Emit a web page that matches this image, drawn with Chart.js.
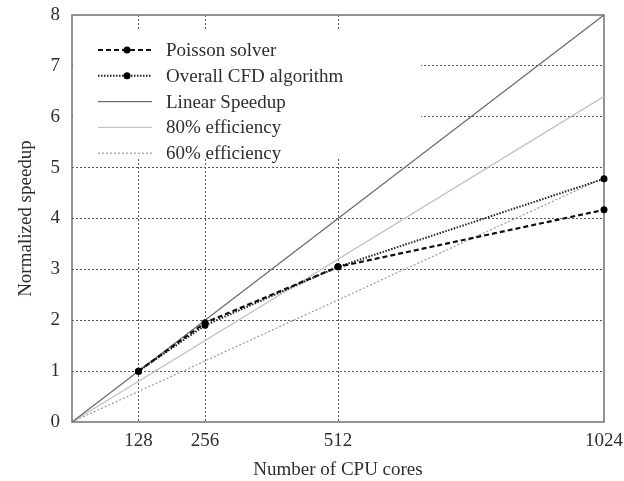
<!DOCTYPE html>
<html>
<head>
<meta charset="utf-8">
<script src="https://cdn.jsdelivr.net/npm/chart.js@4/dist/chart.umd.min.js"></script>
<style>
  html, body { margin: 0; padding: 0; background: #fff; }
  #wrap { width: 624px; height: 481px; }
</style>
</head>
<body>
<div id="wrap"><canvas id="speedupChart" width="624" height="481"></canvas></div>
<script>
// values
const cores = [128, 256, 512, 1024];
const poissonSpeedup = [1, 1.95, 3.05, 4.17];
const cfdSpeedup = [1, 1.9, 3.05, 4.78];
const refCores = [0, 1024];
const linearSpeedup = [0, 8];
const eff80 = [0, 6.4];
const eff60 = [0, 4.8];
const xTicks = [128, 256, 512, 1024];
const yTicks = [0, 1, 2, 3, 4, 5, 6, 7, 8];

const serif = 'Liberation Serif';
const textColor = '#2e2e2e';

function toPoints(xs, ys) {
  return xs.map((x, i) => ({ x: x, y: ys[i] }));
}

// legend inside the plot, top-left; its white box hides the grid behind it
const insideLegend = {
  id: 'insideLegend',
  beforeDatasetsDraw(chart) {
    const ctx = chart.ctx;
    const area = chart.chartArea;
    ctx.save();
    ctx.fillStyle = '#fff';
    ctx.fillRect(area.left + 1, 30, 420 - area.left, 128);
    ctx.restore();
  },
  afterDatasetsDraw(chart) {
    const ctx = chart.ctx;
    ctx.save();
    const rowStart = 50;
    const rowGap = 25.8;
    chart.data.datasets.forEach((ds, i) => {
      const y = rowStart + i * rowGap;
      ctx.strokeStyle = ds.borderColor;
      ctx.lineWidth = ds.borderWidth;
      ctx.setLineDash(ds.borderDash || []);
      ctx.beginPath();
      ctx.moveTo(98, y);
      ctx.lineTo(152, y);
      ctx.stroke();
      ctx.setLineDash([]);
      if (ds.pointRadius > 0) {
        ctx.fillStyle = ds.pointBackgroundColor;
        ctx.beginPath();
        ctx.arc(127, y, ds.pointRadius, 0, Math.PI * 2);
        ctx.fill();
      }
      ctx.fillStyle = textColor;
      ctx.font = '19px "' + serif + '"';
      ctx.textBaseline = 'middle';
      ctx.fillText(ds.label, 166, y + 1);
    });
    ctx.restore();
  }
};

// frame around the plot area
const plotFrame = {
  id: 'plotFrame',
  beforeDatasetsDraw(chart) {
    const ctx = chart.ctx;
    const a = chart.chartArea;
    ctx.save();
    ctx.strokeStyle = '#707070';
    ctx.lineWidth = 1.5;
    ctx.strokeRect(a.left, a.top, a.right - a.left, a.bottom - a.top);
    ctx.restore();
  }
};

const ctx = document.getElementById('speedupChart').getContext('2d');
new Chart(ctx, {
  type: 'line',
  data: {
    datasets: [
      {
        label: 'Poisson solver',
        data: toPoints(cores, poissonSpeedup),
        borderColor: '#111',
        borderWidth: 2.2,
        borderDash: [5, 3],
        pointRadius: 3.5,
        pointBackgroundColor: '#000',
        pointBorderWidth: 0,
        clip: false
      },
      {
        label: 'Overall CFD algorithm',
        data: toPoints(cores, cfdSpeedup),
        borderColor: '#222',
        borderWidth: 2,
        borderDash: [1.5, 1.5],
        pointRadius: 3.5,
        pointBackgroundColor: '#000',
        pointBorderWidth: 0,
        clip: false
      },
      {
        label: 'Linear Speedup',
        data: toPoints(refCores, linearSpeedup),
        borderColor: '#6a6a6a',
        borderWidth: 1.3,
        pointRadius: 0
      },
      {
        label: '80% efficiency',
        data: toPoints(refCores, eff80),
        borderColor: '#c4c4c4',
        borderWidth: 1.3,
        pointRadius: 0
      },
      {
        label: '60% efficiency',
        data: toPoints(refCores, eff60),
        borderColor: '#9a9a9a',
        borderWidth: 1.2,
        borderDash: [2, 2],
        pointRadius: 0
      }
    ]
  },
  options: {
    responsive: false,
    animation: false,
    layout: { padding: { left: 0, right: 20, top: 15, bottom: 0 } },
    plugins: {
      legend: { display: false },
      tooltip: { enabled: false }
    },
    scales: {
      x: {
        type: 'linear',
        min: 0,
        max: 1024,
        afterBuildTicks: scale => {
          scale.ticks = xTicks.map(v => ({ value: v }));
        },
        afterFit: scale => {
          scale.height = 59;
          scale.paddingLeft = 0;
          scale.paddingRight = 0;
        },
        grid: {
          color: c => (c.tick && c.tick.value < 1024 ? '#555' : 'rgba(0,0,0,0)'),
          lineWidth: 1,
          drawTicks: false
        },
        border: { display: false, dash: [2, 2] },
        ticks: {
          color: textColor,
          font: { family: serif, size: 19 },
          padding: 8,
          maxRotation: 0,
          autoSkip: false,
          callback: v => String(v)
        },
        title: {
          display: true,
          text: 'Number of CPU cores',
          color: textColor,
          font: { family: serif, size: 19 },
          padding: { top: 2, bottom: 0 }
        }
      },
      y: {
        min: 0,
        max: 8,
        afterBuildTicks: scale => {
          scale.ticks = yTicks.map(v => ({ value: v }));
        },
        afterFit: scale => {
          scale.width = 72;
          scale.paddingTop = 0;
          scale.paddingBottom = 0;
        },
        grid: {
          color: c => (c.tick && c.tick.value > 0 && c.tick.value < 8 ? '#555' : 'rgba(0,0,0,0)'),
          lineWidth: 1,
          drawTicks: false
        },
        border: { display: false, dash: [2, 2] },
        ticks: {
          color: textColor,
          font: { family: serif, size: 19 },
          padding: 12
        },
        title: {
          display: true,
          text: 'Normalized speedup',
          color: textColor,
          font: { family: serif, size: 19 },
          padding: { top: 15, bottom: 0 }
        }
      }
    }
  },
  plugins: [insideLegend, plotFrame]
});
</script>
</body>
</html>
